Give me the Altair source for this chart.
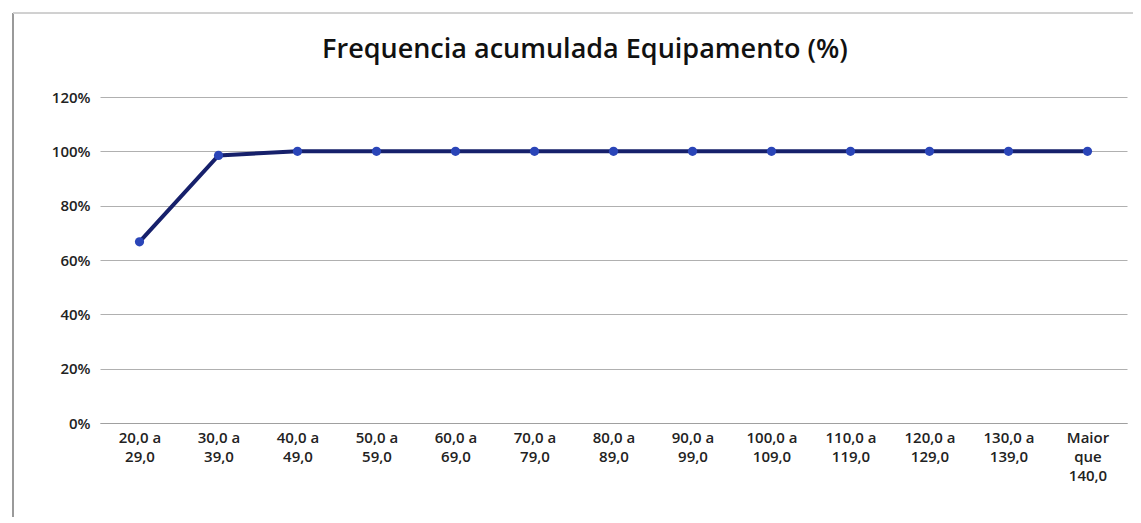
import altair as alt
import pandas as pd

categories = ["20,0 a\n29,0", "30,0 a\n39,0", "40,0 a\n49,0", "50,0 a\n59,0", "60,0 a\n69,0",
              "70,0 a\n79,0", "80,0 a\n89,0", "90,0 a\n99,0", "100,0 a\n109,0", "110,0 a\n119,0",
              "120,0 a\n129,0", "130,0 a\n139,0", "Maior\nque\n140,0"]
values = [0.667, 0.985, 1.0, 1.0, 1.0, 1.0, 1.0, 1.0, 1.0, 1.0, 1.0, 1.0, 1.0]
y_ticks = [0, 0.2, 0.4, 0.6, 0.8, 1.0, 1.2]
title_text = "Frequencia acumulada Equipamento (%)"

df = pd.DataFrame({"cat": categories, "val": values})
FONT = "Open Sans"

x = alt.X("cat:N", sort=categories, title=None,
          scale=alt.Scale(type="point", padding=0.5),
          axis=alt.Axis(labelExpr="split(datum.label, '\\n')", labelAngle=0, labelFont=FONT,
                        labelFontSize=15, labelFontWeight=600, labelColor="#222222",
                        labelLineHeight=19, labelPadding=7, ticks=False, domain=True,
                        domainColor="#a0a0a0", labelBaseline="top"))
y = alt.Y("val:Q", title=None,
          scale=alt.Scale(domain=[0, 1.2], nice=False, zero=True),
          axis=alt.Axis(values=y_ticks, format=".0%", labelFont=FONT, labelFontSize=15,
                        labelFontWeight=600, labelColor="#222222", ticks=False, domain=False,
                        grid=True, gridColor="#b0b0b0", gridWidth=1, labelPadding=10))

line = alt.Chart(df).mark_line(color="#16206b", strokeWidth=4).encode(x=x, y=y)
pts = alt.Chart(df).mark_point(filled=True, color="#2a45b8", size=85, opacity=1).encode(x=x, y=y)

frame = alt.Chart(df).mark_rule(color="#9a9a9a", strokeWidth=1.5).encode(
    x=alt.value(-87), x2=alt.value(-87), y=alt.value(-84), y2=alt.value(420))
top = alt.Chart(df).mark_rule(color="#d0d0d0", strokeWidth=1).encode(
    x=alt.value(-87), x2=alt.value(1040), y=alt.value(-84), y2=alt.value(-84))
title = alt.Chart(pd.DataFrame({"t": [title_text]})).mark_text(
    font=FONT, fontSize=27, fontWeight=600, color="#111111", align="center", baseline="middle"
).encode(text="t:N", x=alt.value(485), y=alt.value(-47))

chart = alt.layer(frame, top, line, pts, title).properties(
    width=1027, height=326,
    autosize=alt.AutoSizeParams(type="none"),
    padding={"left": 92, "top": 89, "right": 6, "bottom": 100},
).configure_view(stroke=None)

chart.save("out.html", embed_options={"renderer": "svg", "actions": False})
